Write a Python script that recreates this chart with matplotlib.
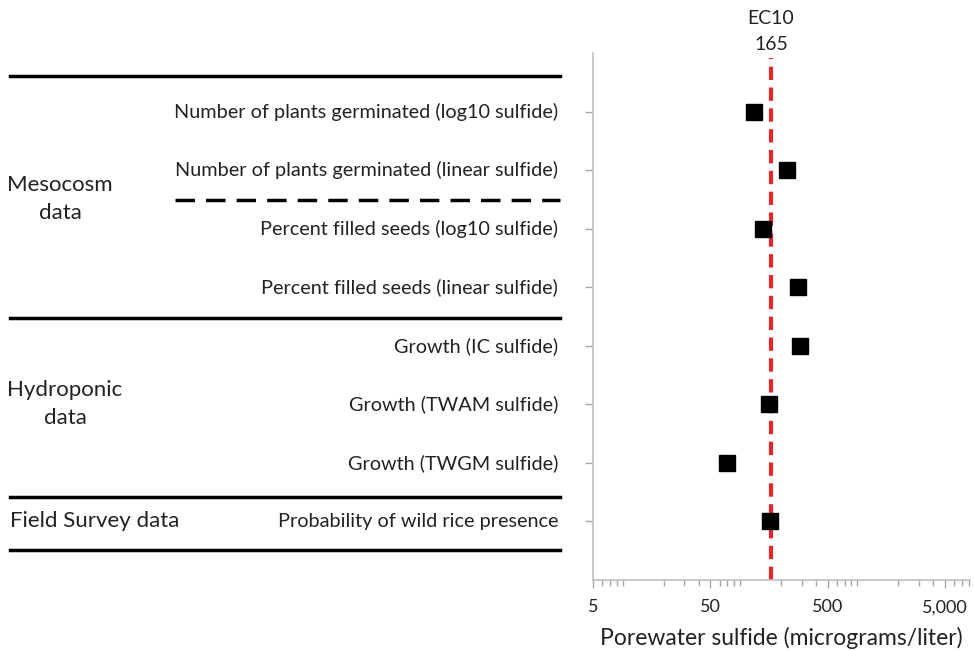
import matplotlib
matplotlib.use("Agg")
import matplotlib.pyplot as plt
from matplotlib.transforms import blended_transform_factory

plt.rcParams['font.family'] = ['Lato', 'DejaVu Sans']

# datos (de arriba hacia abajo)
etiquetas = ["Number of plants germinated (log10 sulfide)",
             "Number of plants germinated (linear sulfide)",
             "Percent filled seeds (log10 sulfide)",
             "Percent filled seeds (linear sulfide)",
             "Growth (IC sulfide)",
             "Growth (TWAM sulfide)",
             "Growth (TWGM sulfide)",
             "Probability of wild rice presence"]
valores = [118, 224, 140, 281, 293, 157, 70, 161]
ec10 = 165
xticks = [5, 50, 500, 5000]
xtick_labels = ["5", "50", "500", "5,000"]
grupos = ["Mesocosm\ndata", "Hydroponic\ndata", "Field Survey data"]

W, H = 974, 651
fig = plt.figure(figsize=(W / 100, H / 100), dpi=100)

x0, x1, y_top, y_bot = 593, 970, 53, 580
pos = [x0 / W, (H - y_bot) / H, (x1 - x0) / W, (y_bot - y_top) / H]
ax = fig.add_axes(pos)

n = len(valores)
filas = list(range(n, 0, -1))
ax.plot(valores, filas, "s", color="black", markersize=12, linestyle="none", zorder=3)

ax.axvline(ec10, ymin=0, ymax=0.99, color="#e8262a", linewidth=3, dashes=(3.2, 1.8), zorder=2)
tr = blended_transform_factory(ax.transData, ax.transAxes)
ax.text(ec10, 1.066, "EC10", transform=tr, ha="center", va="center", fontsize=14, color="#222222")
ax.text(ec10, 1.017, str(ec10), transform=tr, ha="center", va="center", fontsize=14, color="#222222")

ax.set_xscale("log")
ax.set_xlim(5, 8200)
ax.set_ylim(0, 9)
ax.set_xticks(xticks)
ax.set_xticklabels(xtick_labels)
ax.set_yticks(filas)
ax.set_yticklabels([])
ax.tick_params(axis="both", which="major", color="#a6a6a6", length=6, width=1, labelsize=13,
               labelcolor="#222222", pad=8)
ax.tick_params(axis="x", which="minor", color="#a6a6a6", length=4, width=1)
for s in ["top", "right"]:
    ax.spines[s].set_visible(False)
for s in ["left", "bottom"]:
    ax.spines[s].set_color("#bfbfbf")
    ax.spines[s].set_linewidth(1.2)
ax.set_xlabel("Porewater sulfide (micrograms/liter)", fontsize=16.5, color="#222222", labelpad=8)

# tabla de la izquierda, misma escala vertical
axt = fig.add_axes([0, pos[1], x0 / W, pos[3]])
axt.set_xlim(0, x0)
axt.set_ylim(0, 9)
axt.axis("off")

for f, txt in zip(filas, etiquetas):
    axt.text(558, f, txt, ha="right", va="center", fontsize=14.3, color="#222222")

for yl in [8.6, 4.47, 1.42, 0.51]:
    axt.plot([10, 560], [yl, yl], color="black", linewidth=2.5, clip_on=False)
axt.plot([175, 560], [6.49, 6.49], color="black", linewidth=2.5, dashes=(5.6, 3.2), clip_on=False)

axt.text(60, 6.5, grupos[0], ha="center", va="center", fontsize=16, color="#222222", linespacing=1.5)
axt.text(65, 3.0, grupos[1], ha="center", va="center", fontsize=16, color="#222222", linespacing=1.5)
axt.text(10, 1.0, grupos[2], ha="left", va="center", fontsize=16, color="#222222")

plt.savefig("out.png", dpi=100)
